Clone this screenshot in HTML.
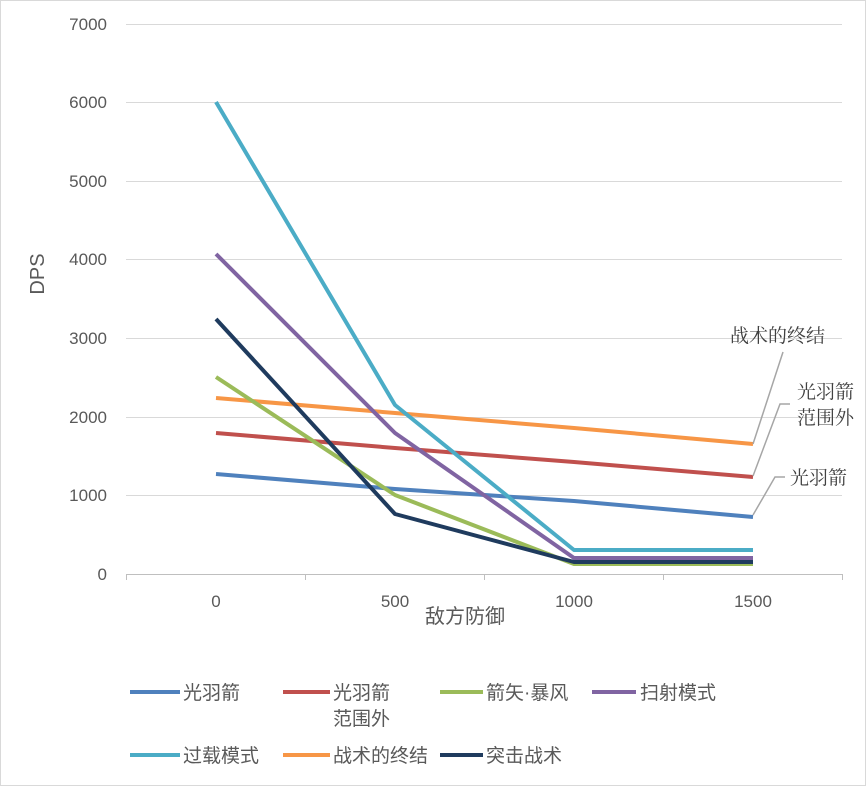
<!DOCTYPE html>
<html><head><meta charset="utf-8"><style>
html,body{margin:0;padding:0;background:#fff}
svg{display:block}
text{font-family:"Liberation Sans","Noto Sans CJK SC",sans-serif;fill:#595959}
.s{font-family:"Liberation Serif","Noto Serif CJK SC",serif;fill:#404040}
</style></head><body>
<svg width="866" height="786" viewBox="0 0 866 786" xmlns="http://www.w3.org/2000/svg">
<rect x="0.5" y="0.5" width="865" height="785" fill="#fff" stroke="#d9d9d9"/>
<g stroke="#d9d9d9" stroke-width="1">
<line x1="126" x2="842" y1="24.5" y2="24.5"/><line x1="126" x2="842" y1="102.5" y2="102.5"/>
<line x1="126" x2="842" y1="181.5" y2="181.5"/><line x1="126" x2="842" y1="259.5" y2="259.5"/>
<line x1="126" x2="842" y1="338.5" y2="338.5"/><line x1="126" x2="842" y1="417.5" y2="417.5"/>
<line x1="126" x2="842" y1="495.5" y2="495.5"/>
<line x1="126" x2="842" y1="574.5" y2="574.5" stroke="#bfbfbf"/>
<line x1="126.5" x2="126.5" y1="574" y2="580" stroke="#bfbfbf"/>
<line x1="305.5" x2="305.5" y1="574" y2="580" stroke="#bfbfbf"/>
<line x1="484.5" x2="484.5" y1="574" y2="580" stroke="#bfbfbf"/>
<line x1="663.5" x2="663.5" y1="574" y2="580" stroke="#bfbfbf"/>
<line x1="842.5" x2="842.5" y1="574" y2="580" stroke="#bfbfbf"/>
</g>
<g font-size="17" text-anchor="end">
<text x="107" y="30">7000</text><text x="107" y="108">6000</text><text x="107" y="187">5000</text>
<text x="107" y="265">4000</text><text x="107" y="344">3000</text><text x="107" y="423">2000</text>
<text x="107" y="501">1000</text><text x="107" y="580">0</text>
</g>
<g font-size="17" text-anchor="middle">
<text x="216" y="607">0</text><text x="395" y="607">500</text><text x="574" y="607">1000</text><text x="753" y="607">1500</text>
</g>
<text x="465" y="623" font-size="20" text-anchor="middle">敌方防御</text>
<text x="0" y="0" font-size="20" text-anchor="middle" transform="translate(44,274) rotate(-90)">DPS</text>
<g fill="none" stroke-width="4" stroke-linejoin="round">
<polyline stroke="#4f81bd" points="216,474 395,489 574,501 753,517"/>
<polyline stroke="#c0504d" points="216,433 395,448 574,462 753,477"/>
<polyline stroke="#f79646" points="216,398 395,413 574,428 753,444"/>
<polyline stroke="#9bbb59" points="216,377 395,495 574,564 753,564"/>
<polyline stroke="#8064a2" points="216,254 395,433 574,558 753,558"/>
<polyline stroke="#4bacc6" points="216,102 395,405 574,550 753,550"/>
<polyline stroke="#1f3b5e" points="216,319 395,514 574,562 753,562"/>
</g>
<g fill="none" stroke="#a6a6a6" stroke-width="1.5">
<polyline points="753,444 783,352"/>
<polyline points="753,476 780,404 790,404"/>
<polyline points="753,515 775,477 785,477"/>
</g>
<g font-size="19" class="s">
<text class="s" x="730" y="342">战术的终结</text>
<text class="s" x="797" y="398">光羽箭</text>
<text class="s" x="797" y="424">范围外</text>
<text class="s" x="790" y="484">光羽箭</text>
</g>
<g stroke-width="4">
<line x1="130" x2="180" y1="692" y2="692" stroke="#4f81bd"/>
<line x1="283" x2="330" y1="692" y2="692" stroke="#c0504d"/>
<line x1="440" x2="483" y1="692" y2="692" stroke="#9bbb59"/>
<line x1="592" x2="636" y1="692" y2="692" stroke="#8064a2"/>
<line x1="130" x2="180" y1="755" y2="755" stroke="#4bacc6"/>
<line x1="283" x2="330" y1="755" y2="755" stroke="#f79646"/>
<line x1="440" x2="483" y1="755" y2="755" stroke="#1f3b5e"/>
</g>
<g font-size="19">
<text x="183" y="699">光羽箭</text>
<text x="333" y="699">光羽箭</text>
<text x="333" y="725">范围外</text>
<text x="486" y="699">箭矢·暴风</text>
<text x="640" y="699">扫射模式</text>
<text x="183" y="762">过载模式</text>
<text x="333" y="762">战术的终结</text>
<text x="486" y="762">突击战术</text>
</g>
</svg>
</body></html>
